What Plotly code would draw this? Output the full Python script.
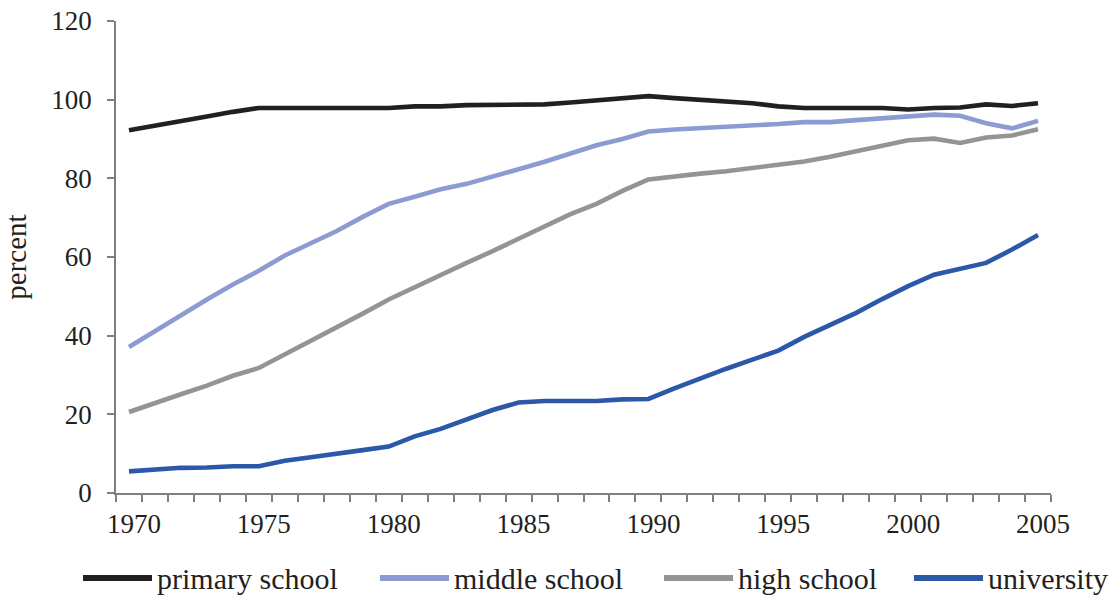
import plotly.graph_objects as go

years = list(range(1970, 2006))

primary_school = [92.2, 93.3, 94.5, 95.7, 96.9, 97.9, 97.9, 97.9, 97.9, 97.9,
                  97.9, 98.3, 98.3, 98.6, 98.6, 98.7, 98.8, 99.3, 99.9, 100.4,
                  100.9, 100.4, 99.9, 99.5, 99.1, 98.3, 97.9, 97.9, 97.9, 97.9,
                  97.5, 97.9, 98.0, 98.8, 98.4, 99.1]
middle_school = [37.1, 41.2, 45.2, 49.2, 53.0, 56.5, 60.4, 63.5, 66.6, 70.2,
                 73.5, 75.3, 77.2, 78.6, 80.3, 82.3, 84.2, 86.4, 88.4, 90.0,
                 91.9, 92.4, 92.7, 93.0, 93.4, 93.8, 94.3, 94.3, 94.8, 95.2,
                 95.6, 96.2, 95.9, 94.0, 92.7, 94.6]
high_school = [20.6, 22.7, 25.1, 27.3, 29.8, 31.8, 35.2, 38.6, 42.2, 45.6,
               49.2, 52.4, 55.4, 58.5, 61.5, 64.6, 67.7, 70.9, 73.5, 76.8,
               79.7, 80.5, 81.2, 81.8, 82.6, 83.3, 84.3, 85.5, 86.9, 88.5,
               89.7, 90.1, 89.0, 90.4, 90.9, 92.5]
university = [5.5, 5.9, 6.4, 6.5, 6.8, 6.8, 8.2, 9.1, 9.9, 10.9,
              11.8, 14.4, 16.3, 18.8, 21.1, 23.0, 23.4, 23.4, 23.4, 23.8,
              23.9, 26.6, 29.2, 31.6, 33.9, 36.2, 39.7, 42.6, 45.8, 49.3,
              52.6, 55.5, 56.9, 58.5, 61.9, 65.6]

series_names = ["primary school", "middle school", "high school", "university"]
series_values = [primary_school, middle_school, high_school, university]
series_colors = ["#231f20", "#8c9bd2", "#949494", "#2b58a8"]

x_tick_years = [1970, 1975, 1980, 1985, 1990, 1995, 2000, 2005]
y_ticks = [0, 20, 40, 60, 80, 100, 120]

FONT = "Liberation Serif"
TXT = "#231f20"
AX = "#7f7f7f"

W, H = 1114, 598
ML, MR, MT, MB = 116, 63, 21, 105

fig = go.Figure()
for name, vals, col in zip(series_names, series_values, series_colors):
    fig.add_trace(go.Scatter(x=years, y=vals, mode="lines", name=name,
                             line=dict(color=col, width=4.6), showlegend=False))

# custom legend (positions in pixels converted to paper coords)
pw = W - ML - MR
ph = H - MT - MB
def px2paper_x(px):
    return (px - ML) / pw
def py2paper_y(py):
    return (H - MB - py) / ph

legend_sample_x = [83, 380, 664, 914]
sample_len = 69
legend_y = 578
for name, col, sx in zip(series_names, series_colors, legend_sample_x):
    fig.add_shape(type="line", xref="paper", yref="paper",
                  x0=px2paper_x(sx), x1=px2paper_x(sx + sample_len),
                  y0=py2paper_y(legend_y), y1=py2paper_y(legend_y),
                  line=dict(color=col, width=6))
    fig.add_annotation(xref="paper", yref="paper", x=px2paper_x(sx + sample_len + 3),
                       y=py2paper_y(legend_y), xanchor="left", yanchor="middle",
                       text=name, showarrow=False,
                       font=dict(family=FONT, size=30, color=TXT))

fig.update_layout(
    width=W, height=H,
    margin=dict(l=ML, r=MR, t=MT, b=MB, autoexpand=False),
    paper_bgcolor="white", plot_bgcolor="white",
    font=dict(family=FONT, size=27, color=TXT),
    xaxis=dict(
        range=[1969.5, 2005.5],
        tickvals=x_tick_years,
        ticktext=[str(y) for y in x_tick_years],
        ticks="outside", ticklen=0, tickcolor=AX,
        minor=dict(ticks="outside", ticklen=7, tick0=1969.5, dtick=1,
                   tickcolor=AX, tickwidth=1.5, showgrid=False),
        showline=True, linecolor=AX, linewidth=1.5,
        showgrid=False, zeroline=False,
        tickfont=dict(family=FONT, size=27, color=TXT),
        ticklabelstandoff=6, ticklabelshift=5,
    ),
    yaxis=dict(
        range=[0, 120], tickvals=y_ticks,
        ticks="outside", ticklen=7, tickcolor=AX, tickwidth=1.5,
        showline=True, linecolor=AX, linewidth=1.5,
        showgrid=False, zeroline=False,
        tickfont=dict(family=FONT, size=27, color=TXT),
        ticklabelstandoff=10,
        title=dict(text="percent", font=dict(family=FONT, size=29, color=TXT), standoff=16),
    ),
)

fig.write_html("out.html", config={"displayModeBar": False},
               post_script="document.body.style.margin='0px';document.body.style.overflow='hidden';")
